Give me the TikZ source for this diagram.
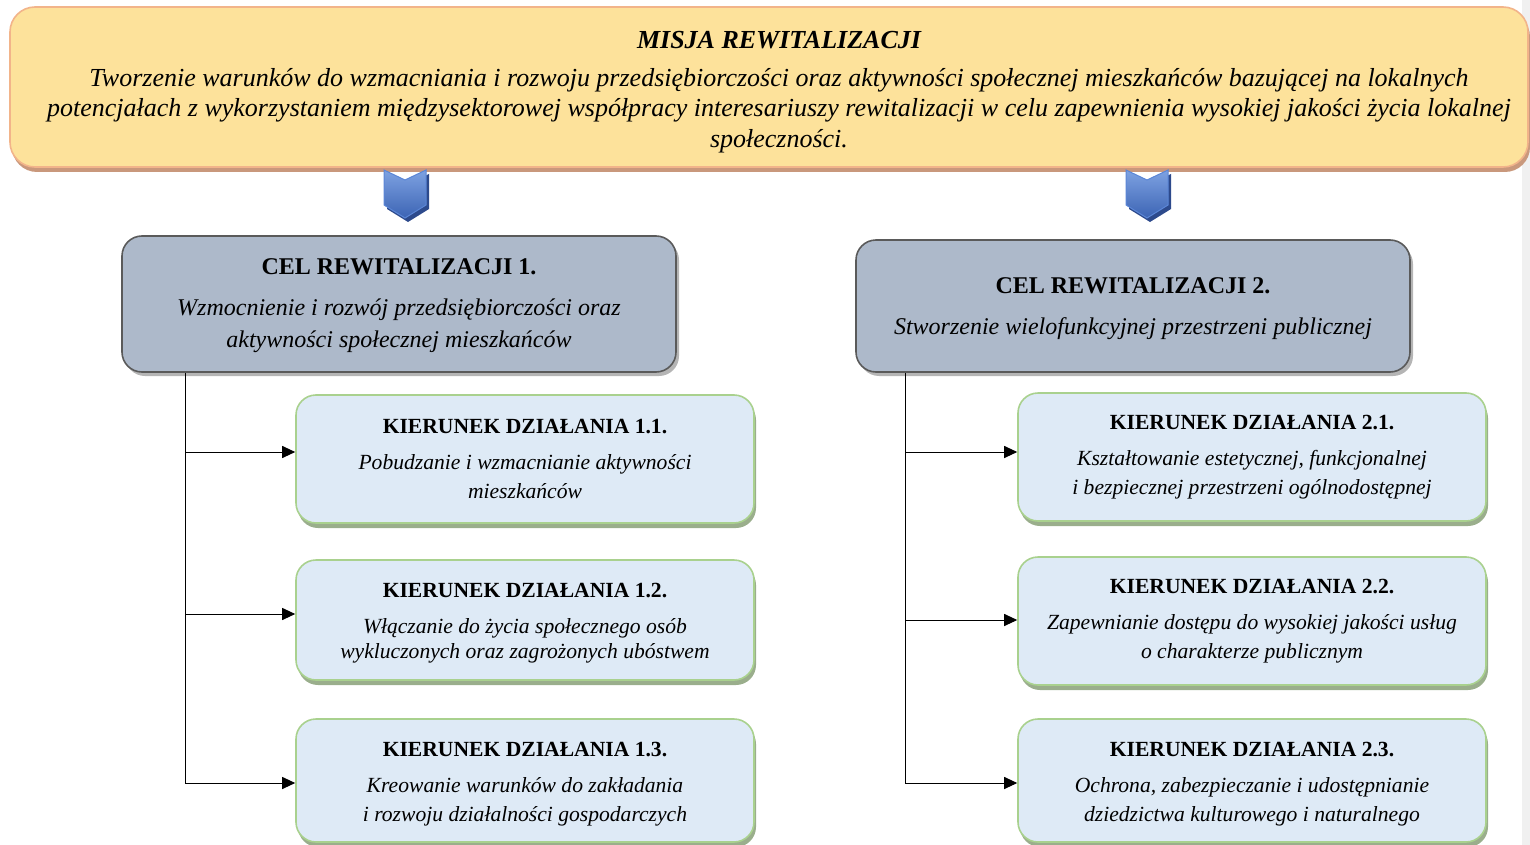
\documentclass[tikz,border=0pt]{standalone}
\usepackage{fontspec}
\setmainfont{Liberation Serif}
\usetikzlibrary{arrows.meta,shadows}
\definecolor{misfill}{HTML}{FDE29B}
\definecolor{misdraw}{HTML}{F2B48A}
\definecolor{misshadow}{HTML}{C9987C}
\definecolor{celfill}{HTML}{ADB9CA}
\definecolor{celdraw}{HTML}{5A5A5A}
\definecolor{celshadow}{HTML}{B5B5B5}
\definecolor{kfill}{HTML}{DEEAF6}
\definecolor{kdraw}{HTML}{A9D18E}
\definecolor{kshadow}{HTML}{9AAE8C}
\definecolor{chevlight}{HTML}{7EA2E2}
\definecolor{chevdark}{HTML}{3C64B4}
\definecolor{chevdraw}{HTML}{5B86D6}
\definecolor{chevshadow}{HTML}{2D4A8C}
\tikzset{
  mission/.style={rounded corners=25pt, fill=misfill, draw=misdraw, line width=1.6pt,
    general shadow={fill=misshadow, shadow xshift=2pt, shadow yshift=-5pt}, inner sep=0pt},
  missiontext/.style={align=center, inner sep=0pt, font=\fontsize{26}{30.5}\selectfont\itshape},
  celbox/.style={rounded corners=20pt, fill=celfill, draw=celdraw, line width=1.6pt,
    general shadow={fill=celshadow, shadow xshift=3pt, shadow yshift=-4pt},
    align=center, inner sep=0pt, font=\fontsize{24}{32}\selectfont},
  kbox/.style={rounded corners=20pt, fill=kfill, draw=kdraw, line width=1.6pt,
    general shadow={fill=kshadow, shadow xshift=2pt, shadow yshift=-5pt},
    align=center, inner sep=0pt, font=\fontsize{21.6}{29}\selectfont},
  conn/.style={line width=1pt, black},
  arr/.style={conn, -{Triangle[length=13pt,width=12pt]}},
  chevshade/.style={top color=chevlight, bottom color=chevdark, draw=chevdraw, line width=1pt},
}
\newcommand{\ktitle}[1]{{\bfseries #1}\\[7pt]}
\newcommand{\kdown}{\rule{0pt}{21pt}}
\begin{document}
\begin{tikzpicture}[x=1pt,y=-1pt]
\useasboundingbox (0,0) rectangle (1530,845);
\fill[gray!12] (1522,0) rectangle (1530,845);

% mission
\node[mission, minimum width=1518pt, minimum height=160pt] (mis) at (769,87) {};
\node[missiontext] (mistext) at (779,87)
  {\rule{0pt}{27pt}{\bfseries MISJA REWITALIZACJI}\\[7.5pt]
   Tworzenie warunków do wzmacniania i rozwoju przedsiębiorczości oraz aktywności społecznej mieszkańców bazującej na lokalnych\\
   potencjałach z wykorzystaniem międzysektorowej współpracy interesariuszy rewitalizacji w celu zapewnienia wysokiej jakości życia lokalnej\\
   społeczności.};

% chevrons
\foreach \c/\nm in {405/chevA, 1147/chevB}{
  \fill[chevshadow] (\c-18,174) -- (\c+3,184) -- (\c+24,174) -- (\c+24,209) -- (\c+3,222) -- (\c-18,209) -- cycle;
  \shade[chevshade] (\c-21,170) -- (\c,180) -- (\c+21,170) -- (\c+21,205) -- (\c,218) -- (\c-21,205) -- cycle;
}

% goals
\node[celbox, minimum width=554pt, minimum height=136pt] (cel1) at (399,304)
  {\rule{0pt}{19pt}{\bfseries CEL REWITALIZACJI 1.}\\[9pt]
   \itshape Wzmocnienie i rozwój przedsiębiorczości oraz\\
   \itshape aktywności społecznej mieszkańców};
\node[celbox, minimum width=554pt, minimum height=132pt] (cel2) at (1133,306)
  {\rule{0pt}{21pt}{\bfseries CEL REWITALIZACJI 2.}\\[9pt]
   \itshape Stworzenie wielofunkcyjnej przestrzeni publicznej};

% directions, goal 1
\node[kbox, minimum width=458pt, minimum height=128pt] (k11) at (525,459)
  {\ktitle{KIERUNEK DZIAŁANIA 1.1.}
   \itshape Pobudzanie i wzmacnianie aktywności\\ \itshape mieszkańców};
\node[kbox, minimum width=458pt, minimum height=120pt] (k12) at (525,620)
  {\ktitle{\kdown KIERUNEK DZIAŁANIA 1.2.}
   \itshape Włączanie do życia społecznego osób\\[-4pt] \itshape wykluczonych oraz zagrożonych ubóstwem};
\node[kbox, minimum width=458pt, minimum height=123pt] (k13) at (525,780.5)
  {\ktitle{\kdown KIERUNEK DZIAŁANIA 1.3.}
   \itshape Kreowanie warunków do zakładania\\ \itshape i rozwoju działalności gospodarczych};

% directions, goal 2
\node[kbox, minimum width=468pt, minimum height=128pt] (k21) at (1252,457)
  {\ktitle{KIERUNEK DZIAŁANIA 2.1.}
   \itshape Kształtowanie estetycznej, funkcjonalnej\\ \itshape i bezpiecznej przestrzeni ogólnodostępnej};
\node[kbox, minimum width=468pt, minimum height=128pt] (k22) at (1252,621)
  {\ktitle{KIERUNEK DZIAŁANIA 2.2.}
   \itshape Zapewnianie dostępu do wysokiej jakości usług\\ \itshape o charakterze publicznym};
\node[kbox, minimum width=468pt, minimum height=123pt] (k23) at (1252,780.5)
  {\ktitle{\kdown KIERUNEK DZIAŁANIA 2.3.}
   \itshape Ochrona, zabezpieczanie i udostępnianie\\ \itshape dziedzictwa kulturowego i naturalnego};

% connectors
\coordinate (b11) at (185,452);
\coordinate (b12) at (185,614);
\coordinate (b13) at (185,783);
\coordinate (b21) at (905,452);
\coordinate (b22) at (905,620);
\coordinate (b23) at (905,783);
\draw[conn] (cel1.south -| b11) -- (b13);
\draw[conn] (cel2.south -| b21) -- (b23);
\foreach \b/\k in {b11/k11, b12/k12, b13/k13, b21/k21, b22/k22, b23/k23}
  \draw[arr] (\b) -- (\b -| \k.west);
\end{tikzpicture}
\end{document}
